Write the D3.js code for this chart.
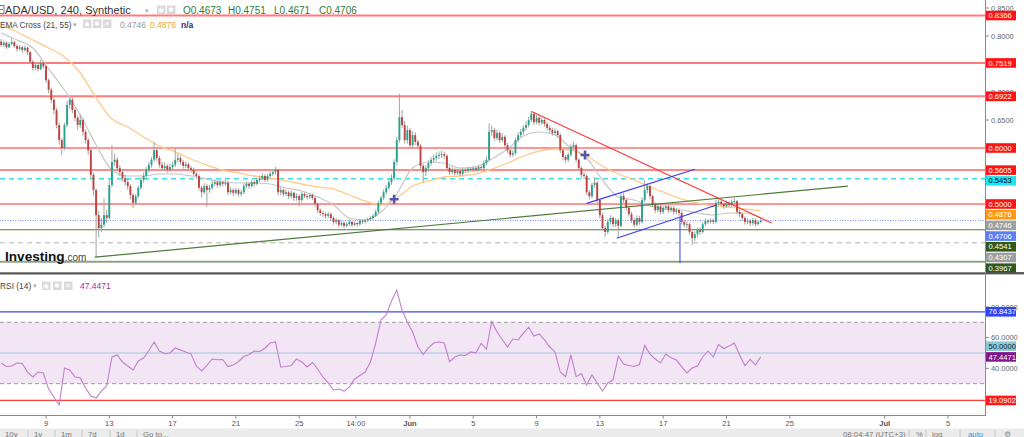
<!DOCTYPE html>
<html><head><meta charset="utf-8">
<script src="https://cdn.jsdelivr.net/npm/d3@7/dist/d3.min.js"></script>
<style>
html,body{margin:0;padding:0;background:#fff;overflow:hidden;}
svg{display:block;font-family:"Liberation Sans",Arial,Helvetica,sans-serif;}
</style></head><body>
<svg id="chart" width="1024" height="437"></svg>
<script>
// ================= DATA =================
const symbolTitle = "ADA/USD, 240, Synthetic";
const firstCandleTime = "2022-05-06T04:00";
const candleHours = 4;
const firstOpen = 0.790;
const closes = [
.784,.788,.780,.786,.789,.782,.777,.780,.775,.779,
.771,.754,.743,.748,.741,.752,.746,.721,.704,.686,
.668,.641,.614,.600,.641,.677,.686,.668,.654,.641,
.650,.629,.614,.596,.552,.525,.480,.457,.463,.480,
.475,.534,.575,.579,.564,.557,.546,.539,.532,.516,
.502,.514,.529,.543,.550,.561,.570,.579,.596,.582,
.570,.564,.568,.561,.566,.570,.579,.582,.575,.568,
.571,.564,.561,.554,.550,.529,.521,.532,.525,.529,
.536,.539,.534,.539,.536,.538,.521,.525,.520,.525,
.518,.521,.532,.536,.532,.539,.536,.543,.546,.550,
.543,.550,.554,.557,.561,.521,.525,.518,.521,.514,
.520,.511,.514,.507,.518,.514,.513,.516,.511,.500,
.489,.484,.482,.479,.482,.475,.468,.471,.463,.466,
.461,.464,.468,.463,.466,.464,.470,.468,.471,.473,
.475,.479,.486,.502,.511,.521,.529,.539,.546,.575,
.614,.655,.641,.614,.632,.605,.623,.611,.604,.568,
.557,.564,.573,.579,.582,.586,.588,.589,.586,.564,
.557,.561,.555,.559,.554,.561,.559,.563,.561,.564,
.561,.566,.564,.573,.579,.629,.632,.618,.627,.614,
.620,.605,.596,.588,.591,.614,.623,.629,.636,.641,
.650,.661,.646,.654,.645,.650,.643,.636,.632,.627,
.630,.623,.596,.584,.579,.588,.602,.605,.579,.564,
.552,.550,.521,.514,.534,.538,.507,.480,.457,.450,
.468,.475,.464,.471,.461,.514,.507,.493,.482,.471,
.463,.475,.468,.507,.525,.532,.514,.500,.489,.496,
.486,.493,.496,.489,.493,.486,.489,.484,.468,.463,
.464,.450,.439,.446,.454,.450,.464,.470,.468,.471,
.468,.502,.504,.500,.496,.502,.498,.504,.505,.486,
.482,.475,.468,.470,.466,.471,.464,.4673,.4706];
const highs = [
.795,.792,.790,.789,.796,.791,.785,.784,.782,.783,
.781,.773,.757,.752,.752,.758,.755,.748,.724,.708,
.690,.672,.645,.618,.645,.684,.692,.690,.672,.658,
.660,.653,.633,.618,.599,.556,.528,.488,.475,.510,
.490,.545,.605,.590,.584,.570,.562,.552,.545,.536,
.520,.518,.533,.548,.556,.566,.575,.584,.611,.600,
.586,.575,.574,.571,.572,.576,.600,.590,.586,.579,
.576,.574,.568,.565,.558,.553,.533,.537,.536,.534,
.541,.544,.542,.543,.542,.543,.541,.530,.528,.529,
.528,.526,.536,.540,.539,.543,.542,.547,.551,.555,
.553,.554,.558,.561,.566,.563,.530,.528,.526,.524,
.524,.522,.519,.517,.522,.521,.518,.520,.519,.513,
.503,.492,.488,.485,.486,.485,.478,.475,.473,.470,
.469,.468,.472,.470,.469,.468,.473,.473,.474,.476,
.478,.482,.490,.506,.515,.526,.534,.544,.553,.580,
.620,.697,.668,.648,.640,.636,.630,.628,.615,.607,
.572,.569,.578,.584,.588,.592,.594,.595,.593,.589,
.568,.566,.564,.563,.562,.565,.564,.567,.566,.568,
.567,.570,.569,.578,.585,.644,.640,.636,.633,.630,
.626,.623,.609,.600,.596,.618,.628,.634,.641,.647,
.656,.666,.664,.659,.658,.655,.653,.646,.640,.636,
.635,.633,.626,.599,.588,.592,.607,.611,.608,.582,
.567,.557,.553,.525,.538,.548,.541,.510,.484,.461,
.473,.480,.478,.475,.474,.519,.520,.510,.497,.486,
.475,.480,.479,.512,.543,.537,.535,.517,.503,.500,
.499,.497,.500,.499,.497,.496,.493,.492,.487,.472,
.469,.467,.453,.451,.458,.458,.468,.474,.473,.475,
.474,.507,.509,.507,.503,.506,.505,.508,.511,.507,
.490,.485,.478,.474,.473,.475,.474,.471,.4751];
const lows = [
.781,.780,.777,.778,.783,.779,.772,.774,.770,.772,
.766,.750,.738,.739,.737,.739,.742,.716,.698,.680,
.660,.635,.606,.588,.596,.637,.670,.662,.648,.632,
.636,.622,.608,.588,.545,.515,.405,.440,.450,.458,
.466,.472,.530,.568,.558,.550,.540,.533,.525,.508,
.493,.498,.510,.525,.538,.546,.556,.565,.575,.577,
.565,.559,.560,.556,.557,.562,.566,.574,.570,.563,
.564,.560,.556,.550,.545,.524,.512,.517,.495,.520,
.525,.532,.529,.530,.531,.532,.516,.517,.514,.516,
.513,.514,.518,.528,.527,.529,.531,.533,.539,.542,
.539,.540,.546,.550,.553,.515,.516,.513,.514,.509,
.510,.505,.506,.495,.503,.510,.508,.509,.507,.495,
.484,.479,.477,.474,.475,.470,.463,.464,.458,.460,
.456,.458,.460,.459,.460,.460,.461,.464,.465,.467,
.469,.471,.476,.483,.498,.507,.517,.525,.534,.542,
.570,.610,.636,.608,.608,.600,.600,.605,.598,.562,
.539,.550,.558,.568,.574,.577,.580,.582,.580,.560,
.552,.553,.551,.552,.550,.551,.555,.555,.557,.557,
.557,.558,.560,.561,.569,.576,.622,.613,.614,.609,
.610,.600,.591,.583,.584,.588,.610,.619,.624,.631,
.637,.646,.641,.642,.640,.641,.638,.631,.627,.622,
.623,.618,.591,.578,.573,.575,.584,.597,.574,.559,
.547,.545,.516,.508,.510,.529,.502,.474,.452,.441,
.446,.463,.459,.459,.441,.458,.502,.488,.477,.466,
.458,.460,.463,.465,.503,.519,.509,.495,.484,.485,
.481,.482,.489,.484,.485,.481,.482,.479,.463,.458,
.457,.445,.427,.434,.440,.445,.447,.460,.464,.465,
.464,.465,.497,.496,.491,.493,.494,.495,.500,.482,
.477,.470,.463,.464,.461,.462,.460,.461,.4671];

// EMA values read every 6 candles (one per day)
const emaStepCandles = 6;
const ema21 = [.8054,.7929,.7786,.7411,.7036,.6589,.6054,.5607,.5500,.5500,
.5536,.5536,.5500,.5446,.5393,.5375,.5375,.5357,.5286,.5232,
.5125,.4982,.4750,.4714,.4857,.5179,.5643,.5750,.5732,.5643,
.5661,.5804,.5982,.6214,.6286,.6232,.6000,.5821,.5429,.5125,
.5071,.4964,.4911,.4893,.4839,.4804,.4839,.4839,.4746];
const ema55 = [.8197,.8072,.7929,.7786,.7625,.7339,.6893,.6518,.6375,.6197,
.6036,.5929,.5804,.5696,.5607,.5554,.5500,.5464,.5411,.5357,
.5304,.5268,.5161,.5054,.4982,.5107,.5321,.5411,.5482,.5500,
.5536,.5625,.5732,.5857,.5946,.5982,.5964,.5857,.5679,.5536,
.5429,.5304,.5196,.5089,.5018,.4964,.4946,.4911,.4876];

// RSI(14) read every 2 candles
const rsiStepCandles = 2;
const rsi14 = [43.5,41.2,41.5,43.5,43.2,37.6,34.4,37.6,37.0,26.5,
21.3,16.1,40.2,38.9,34.4,33.7,27.2,22.0,20.7,25.2,
28.5,47.4,48.7,44.1,41.5,38.9,44.8,46.7,51.6,57.2,
51.3,49.5,50.0,53.3,52.0,50.7,49.3,41.5,38.3,41.9,
46.1,45.6,45.8,41.2,42.2,44.5,47.7,49.0,51.3,51.0,
53.1,56.5,57.2,40.9,41.2,41.9,46.1,44.1,40.9,43.8,
39.6,34.4,30.5,25.9,26.5,25.2,27.8,33.1,35.3,37.6,
44.1,56.5,71.5,74.8,83.9,91.0,78.0,70.2,63.7,54.1,
49.0,53.3,56.5,57.2,56.5,44.3,47.4,48.7,48.4,50.7,
50.0,56.3,52.6,70.4,63.7,58.8,53.9,59.1,58.5,63.0,
66.9,61.1,62.4,58.5,53.9,50.7,37.6,34.6,48.7,34.6,
36.6,29.2,35.7,30.5,25.2,30.5,32.4,48.0,42.8,41.9,
41.2,42.5,54.9,49.3,46.1,43.5,49.3,46.9,45.4,41.1,
37.0,40.2,41.5,47.4,51.3,47.4,55.5,52.9,54.6,56.5,
48.7,41.7,45.9,42.2,47.4471];

const levelPrices = [0.8366,0.7519,0.6922,0.6000,0.5605,0.5453,0.5000,0.4541,0.4307,0.3967];
const rsiLevels = [76.8437, 19.0902];
const rsiBand = [30, 70];
const rsiMid = 50;
const priceTicks = [0.85,0.80,0.75,0.70,0.65,0.60,0.55,0.50,0.45,0.40];
const rsiTicks = [20,40,60,80];
const timeTickDates = ["2022-05-09T00:00","2022-05-13T00:00","2022-05-17T00:00","2022-05-21T00:00","2022-05-25T00:00","2022-05-28T14:00","2022-06-01T00:00","2022-06-05T00:00","2022-06-09T00:00","2022-06-13T00:00","2022-06-17T00:00","2022-06-21T00:00","2022-06-25T00:00","2022-07-01T00:00","2022-07-05T00:00"];
const timeTickLabels = ["9","13","17","21","25","14:00","Jun","5","9","13","17","21","25","Jul","5"];

// drawings: [startTime, startPrice, endTime, endPrice]
const supportLine = ["2022-05-12T02:00",0.405,"2022-06-28T16:00",0.532];
const resistanceLine = ["2022-06-08T16:30",0.665,"2022-06-23T20:40",0.466];
const channelUpper = ["2022-06-12T04:00",0.5012,"2022-06-19T00:15",0.5620];
const channelLower = ["2022-06-14T01:30",0.4388,"2022-06-20T09:00",0.4982];
const verticalMark = ["2022-06-18T01:30",0.4773,"2022-06-18T01:30",0.394];
const crossTimes = ["2022-05-31T00:00","2022-06-12T01:30"];
const crossPrices = [0.5084,0.5875];

const leftToolbar = ["10y","1y","1m","7d","1d","Go to..."];
const rightToolbar = ["08:04:47 (UTC+3)","%","log","auto","⚙"];

// ================= DRAWING =================
const T = s => new Date(s + ":00Z");
const t0 = T(firstCandleTime);
const ct = i => new Date(+t0 + i*candleHours*3600e3);
const candles = closes.map((c,i)=>({t:ct(i), o: i ? closes[i-1] : firstOpen, h:highs[i], l:lows[i], c}));
const last = candles[candles.length-1];

const PW = 985;
const svg = d3.select("#chart");
const x = d3.scaleUtc().domain([T("2022-05-09T00:00"), T("2022-07-05T00:00")]).range([46,948]);
const y = d3.scaleLinear().domain([0.40,0.85]).range([260,8]);
const yR = d3.scaleLinear().domain([20,80]).range([399.05,306.95]);
const f4 = d3.format(".4f");

const defs = svg.append("defs");
defs.append("clipPath").attr("id","cm").append("rect").attr("x",0).attr("y",0).attr("width",PW).attr("height",272);
defs.append("clipPath").attr("id","cr").append("rect").attr("x",0).attr("y",275).attr("width",PW).attr("height",140);

const gm = svg.append("g").attr("clip-path","url(#cm)");

const levelStyle = [
  {c:"#ff5a5a",w:2,op:0.8},{c:"#ff5a5a",w:2,op:0.8},{c:"#ff5a5a",w:2,op:0.8},
  {c:"#ff2b2b",w:1.2},{c:"#ff4545",w:1.5,op:0.85},{c:"#3fdcea",w:1.5,dash:"5,4"},
  {c:"#ff2b2b",w:1.2},{c:"#4f7a3d",w:1.1},{c:"#b3b3b3",w:1,dash:"5,4"},{c:"#8ea283",w:2}
];
levelPrices.forEach((p,i)=>{
  const s = levelStyle[i];
  gm.append("line").attr("x1",0).attr("x2",PW).attr("y1",y(p)).attr("y2",y(p))
    .attr("stroke",s.c).attr("stroke-width",s.w).attr("stroke-opacity",s.op||1)
    .attr("stroke-dasharray",s.dash||null);
});
gm.append("line").attr("x1",0).attr("x2",PW).attr("y1",y(last.c)).attr("y2",y(last.c))
  .attr("stroke","#6f86f2").attr("stroke-width",1).attr("stroke-dasharray","1,1.5");

// EMAs
const emaLine = d3.line().x(d=>x(d.t)).y(d=>y(d.v)).curve(d3.curveMonotoneX);
gm.append("path").datum(ema55.map((v,k)=>({t:ct(k*emaStepCandles),v})))
  .attr("d",emaLine).attr("fill","none").attr("stroke","#ffc987").attr("stroke-width",1.3);
gm.append("path").datum(ema21.map((v,k)=>({t:ct(k*emaStepCandles),v})))
  .attr("d",emaLine).attr("fill","none").attr("stroke","#c6c6c6").attr("stroke-width",1.2);

// candles
const cw = 1.9;
const gc = gm.append("g");
gc.selectAll("line").data(candles).join("line")
  .attr("x1",d=>x(d.t)).attr("x2",d=>x(d.t)).attr("y1",d=>y(d.h)).attr("y2",d=>y(d.l))
  .attr("stroke","#a3a3a3").attr("stroke-width",1);
gc.selectAll("rect").data(candles).join("rect")
  .attr("x",d=>x(d.t)-cw/2).attr("y",d=>y(Math.max(d.o,d.c)))
  .attr("width",cw).attr("height",d=>Math.max(1,Math.abs(y(d.o)-y(d.c))))
  .attr("fill",d=>d.c>=d.o?"#27a28c":"#be433c");

// drawings
const seg = (a,col,w) => gm.append("line")
  .attr("x1",x(T(a[0]))).attr("y1",y(a[1])).attr("x2",x(T(a[2]))).attr("y2",y(a[3]))
  .attr("stroke",col).attr("stroke-width",w);
seg(supportLine,"#4c7a38",1.2);
seg(resistanceLine,"#ff3535",1.1);
seg(channelUpper,"#3a3ef2",1.2);
seg(channelLower,"#3a3ef2",1.2);
seg(verticalMark,"#4f63f0",1.2);
crossTimes.forEach((s,i)=>{
  const cx = x(T(s)), cy = y(crossPrices[i]);
  gm.append("path").attr("d",`M${cx-4.5},${cy}H${cx+4.5}M${cx},${cy-4.5}V${cy+4.5}`)
    .attr("stroke","#5556a8").attr("stroke-width",2.6);
});

// logo
const logo = svg.append("text").attr("x",5).attr("y",261);
logo.append("tspan").text("Investing").attr("font-size",13.6).attr("font-weight","bold").attr("fill","#111");
logo.append("tspan").text(".com").attr("font-size",10).attr("fill","#444");

// header
svg.append("rect").attr("x",-3).attr("y",5.5).attr("width",7).attr("height",8).attr("fill","none").attr("stroke","#777");
svg.append("line").attr("x1",-2).attr("x2",3).attr("y1",9.5).attr("y2",9.5).attr("stroke","#777");
svg.append("text").attr("x",5).attr("y",14).attr("font-size",11.1).attr("fill","#333").text(symbolTitle);
svg.append("text").attr("x",145).attr("y",13).attr("font-size",7).attr("fill","#aaa").text("▾");
const iconBox = (ix,iy,sym) => {
  svg.append("rect").attr("x",ix).attr("y",iy).attr("width",8.5).attr("height",8.5).attr("fill","#d9d9d9");
  svg.append("text").attr("x",ix+4.25).attr("y",iy+6.6).attr("text-anchor","middle").attr("font-size",6.5).attr("fill","#fff").text(sym);
};
iconBox(157,5.5,"◉"); iconBox(167,5.5,"✱");
const ohlcLetters = ["O","H","L","C"], ohlcVals = [last.o,last.h,last.l,last.c], ohlcX = [183,228,274,319];
ohlcLetters.forEach((L,i)=>{
  svg.append("text").attr("x",ohlcX[i]).attr("y",14).attr("font-size",10).attr("fill","#2f7d34").text(L + f4(ohlcVals[i]));
});
svg.append("text").attr("x",0).attr("y",27.5).attr("font-size",8.2).attr("fill","#444").text("EMA Cross (21, 55)");
svg.append("text").attr("x",73).attr("y",27).attr("font-size",6.5).attr("fill","#aaa").text("▾");
iconBox(83,19.5,"◉"); iconBox(93,19.5,"✱"); iconBox(103,19.5,"✕");
svg.append("text").attr("x",120).attr("y",27.5).attr("font-size",8.5).attr("fill","#9a9a9a").text(f4(ema21[ema21.length-1]));
svg.append("text").attr("x",150).attr("y",27.5).attr("font-size",8.5).attr("fill","#f5a623").text(f4(ema55[ema55.length-1]));
svg.append("text").attr("x",181).attr("y",27.5).attr("font-size",8.5).attr("font-weight","bold").attr("fill","#2b2b8f").text("n/a");

// separator between panes
svg.append("rect").attr("x",0).attr("y",272.3).attr("width",1024).attr("height",2.2).attr("fill","#555");

// RSI pane
const gr = svg.append("g").attr("clip-path","url(#cr)");
gr.append("rect").attr("x",0).attr("width",PW).attr("y",yR(rsiBand[1])).attr("height",yR(rsiBand[0])-yR(rsiBand[1])).attr("fill","#f2e5f4");
rsiBand.forEach(v=>gr.append("line").attr("x1",0).attr("x2",PW).attr("y1",yR(v)).attr("y2",yR(v)).attr("stroke","#9f979f").attr("stroke-dasharray","4,3"));
gr.append("line").attr("x1",0).attr("x2",PW).attr("y1",yR(rsiMid)).attr("y2",yR(rsiMid)).attr("stroke","#a5c6d8");
gr.append("line").attr("x1",0).attr("x2",PW).attr("y1",yR(rsiLevels[0])).attr("y2",yR(rsiLevels[0])).attr("stroke","#3e4ef0").attr("stroke-width",1.2);
gr.append("line").attr("x1",0).attr("x2",PW).attr("y1",yR(rsiLevels[1])).attr("y2",yR(rsiLevels[1])).attr("stroke","#ff3b3b").attr("stroke-width",1.2);
gr.append("path").datum(rsi14.map((v,k)=>({t:ct(k*rsiStepCandles),v})))
  .attr("d",d3.line().x(d=>x(d.t)).y(d=>yR(d.v))).attr("fill","none").attr("stroke","#c47ed0").attr("stroke-width",1.1);
svg.append("text").attr("x",0).attr("y",288.5).attr("font-size",8.4).attr("fill","#444").text("RSI (14)");
svg.append("text").attr("x",33).attr("y",288).attr("font-size",6.5).attr("fill","#aaa").text("▾");
iconBox(42,281.5,"◉"); iconBox(53,281.5,"✱"); iconBox(64,281.5,"✕");
svg.append("text").attr("x",80).attr("y",288.5).attr("font-size",8.5).attr("fill","#9b30ae").text(f4(rsi14[rsi14.length-1]));

// label layout (computed first so hidden tick texts can be skipped)
function layoutLabels(items, dir){
  items.forEach(d=>d.ly=d.yy);
  const h = 10.7;
  items.sort((a,b)=>a.yy-b.yy);
  if (dir==="down"){ for(let i=1;i<items.length;i++) if(items[i].ly<items[i-1].ly+h) items[i].ly=items[i-1].ly+h; }
  else { for(let i=items.length-2;i>=0;i--) if(items[i].ly>items[i+1].ly-h) items[i].ly=items[i+1].ly-h; }
  return items;
}
const levelBg = ["#ff1414","#ff1414","#ff1414","#ff1414","#ff1414","#1de3f0","#ff1414","#2e5a1d","#9e9e9e","#2e5a1d"];
const levelFg = ["#fff","#fff","#fff","#fff","#fff","#000","#fff","#fff","#fff","#fff"];
const mainLabels = levelPrices.map((p,i)=>({yy:y(p),txt:f4(p),bg:levelBg[i],fg:levelFg[i]}));
mainLabels.push({yy:y(ema55[ema55.length-1]),txt:f4(ema55[ema55.length-1]),bg:"#ff9a0e"});
mainLabels.push({yy:y(ema21[ema21.length-1]),txt:f4(ema21[ema21.length-1]),bg:"#a0a0a0"});
mainLabels.push({yy:y(last.c),txt:f4(last.c),bg:"#5b7ef5"});
layoutLabels(mainLabels,"down");
const rsiLabels = layoutLabels([
  {yy:yR(rsiLevels[0]),txt:f4(rsiLevels[0]),bg:"#2f46f2"},
  {yy:yR(rsiMid),txt:f4(rsiMid),bg:"#86c9d9",fg:"#222"},
  {yy:yR(rsi14[rsi14.length-1]),txt:f4(rsi14[rsi14.length-1]),bg:"#80178a"},
  {yy:yR(rsiLevels[1]),txt:f4(rsiLevels[1]),bg:"#ff1a1a"}
],"up");
const allLabels = mainLabels.concat(rsiLabels);

// right axis
svg.append("line").attr("x1",PW+0.5).attr("x2",PW+0.5).attr("y1",0).attr("y2",415).attr("stroke","#8a8a8a");
const tickLbl = (yy,txt) => {
  svg.append("line").attr("x1",PW+1).attr("x2",PW+4).attr("y1",yy).attr("y2",yy).attr("stroke","#888");
  const direct = allLabels.some(l=>Math.abs(l.ly-yy)<3.5);
  const above = allLabels.some(l=>l.ly<=yy && yy-l.ly<7.5);
  const below = allLabels.some(l=>l.ly>=yy && l.ly-yy<7.5);
  if (!direct && !(above && below)) svg.append("text").attr("x",PW+6).attr("y",yy).attr("dy","0.35em").attr("font-size",7.4).attr("fill","#666").text(txt);
};
priceTicks.forEach(p=>{ if (y(p) < 270) tickLbl(y(p), f4(p)); });
rsiTicks.forEach(v=>tickLbl(yR(v), f4(v)));

allLabels.forEach(d=>{
  svg.append("rect").attr("x",PW+1).attr("y",d.ly-4.8).attr("width",30).attr("height",9.6).attr("fill",d.bg);
  svg.append("text").attr("x",PW+3.5).attr("y",d.ly).attr("dy","0.35em").attr("font-size",7.6).attr("fill",d.fg||"#fff").text(d.txt);
});
svg.append("rect").attr("x",PW+1).attr("y",272.3).attr("width",40).attr("height",2.2).attr("fill","#555");
svg.append("rect").attr("x",PW+1).attr("y",274.5).attr("width",40).attr("height",2).attr("fill","#fff");

// time axis
svg.append("line").attr("x1",0).attr("x2",PW+1).attr("y1",415.5).attr("y2",415.5).attr("stroke","#8a8a8a");
timeTickDates.forEach((s,i)=>{
  const tx = x(T(s));
  svg.append("line").attr("x1",tx).attr("x2",tx).attr("y1",415.5).attr("y2",418.5).attr("stroke","#888");
  const isMonth = /[A-Za-z]/.test(timeTickLabels[i]);
  svg.append("text").attr("x",tx).attr("y",426).attr("text-anchor","middle").attr("font-size",7.6)
    .attr("font-weight",isMonth?"bold":"normal").attr("fill","#555").text(timeTickLabels[i]);
});

// bottom toolbar
svg.append("rect").attr("x",0).attr("y",428.5).attr("width",1024).attr("height",9).attr("fill","#ebebeb");
const lx = [5,34,61,88,116,143];
leftToolbar.forEach((s,i)=>{
  svg.append("text").attr("x",lx[i]).attr("y",436.5).attr("font-size",7.8).attr("fill","#777").text(s);
  if (i<leftToolbar.length-1) svg.append("line").attr("x1",lx[i+1]-6).attr("x2",lx[i+1]-6).attr("y1",430).attr("y2",437).attr("stroke","#c8c8c8");
});
const rx = [843,916,932,968,1004], rc = ["#777","#777","#777","#3d8fdc","#888"];
rightToolbar.forEach((s,i)=>svg.append("text").attr("x",rx[i]).attr("y",436.5).attr("font-size",7.8).attr("fill",rc[i]).text(s));
[909,926,960,995].forEach(sx=>svg.append("line").attr("x1",sx).attr("x2",sx).attr("y1",430).attr("y2",437).attr("stroke","#c8c8c8"));
</script>
</body></html>
